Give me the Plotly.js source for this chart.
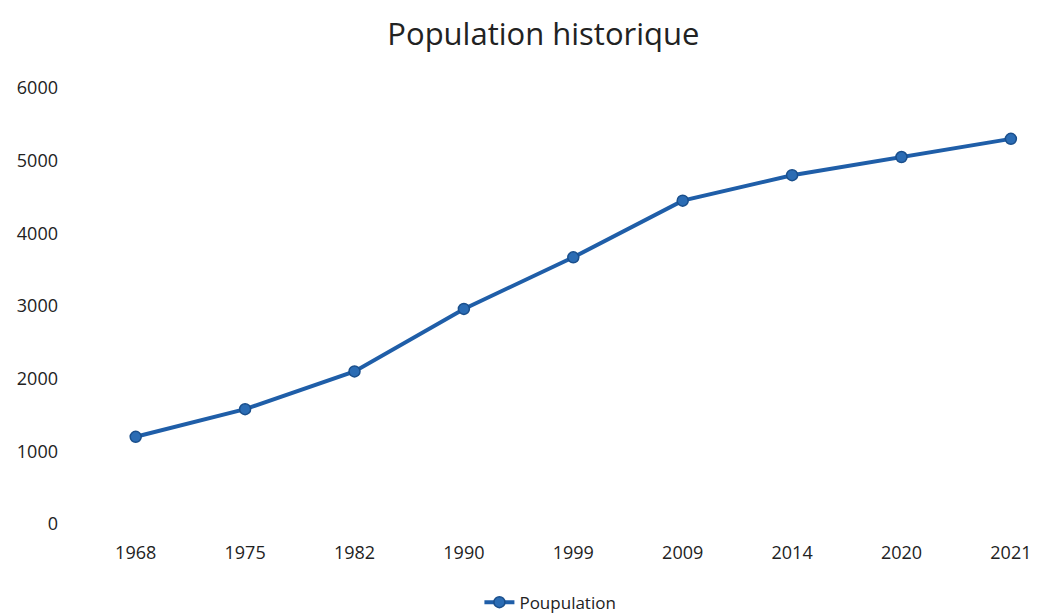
<!DOCTYPE html>
<html>
<head>
<meta charset="utf-8">
<script src="https://cdn.plot.ly/plotly-3.0.1.min.js"></script>
<style>html,body{margin:0;padding:0;background:#fff;}#chart{width:1039px;height:613px;}</style>
</head>
<body>
<div id="chart"></div>
<script>
const years = ['1968','1975','1982','1990','1999','2009','2014','2020','2021'];
const population = [1200, 1580, 2100, 2960, 3670, 4450, 4800, 5050, 5300];
const seriesName = 'Poupulation';
const yTicks = [0, 1000, 2000, 3000, 4000, 5000, 6000];

const trace = {
  x: years,
  y: population,
  name: seriesName,
  type: 'scatter',
  mode: 'lines+markers',
  line: {color: '#1f5ea8', width: 4},
  marker: {color: '#2b6cb4', size: 11, line: {color: '#1a4f8c', width: 1.5}}
};

const layout = {
  width: 1039, height: 613,
  paper_bgcolor: '#fff', plot_bgcolor: '#fff',
  font: {family: 'Open Sans, Noto Sans, sans-serif', color: '#222'},
  margin: {l: 81, r: 0, t: 88, b: 89, autoexpand: false},
  title: {text: 'Population historique', x: 0.523, xanchor: 'center', y: 0.945, yanchor: 'middle',
          font: {size: 31, color: '#222', family: 'Open Sans, Noto Sans, sans-serif'}},
  showlegend: true,
  legend: {orientation: 'h', x: 0.49, xanchor: 'center', yref: 'container', y: 0.017, yanchor: 'middle',
           font: {size: 17, color: '#222'}},
  xaxis: {type: 'category', range: [-0.5, 8.257], showgrid: false, zeroline: false, showline: false, automargin: false,
          ticks: '', ticklabelstandoff: 16, tickfont: {size: 18, color: '#222'}},
  yaxis: {range: [0, 6000], tickvals: yTicks, showgrid: false, zeroline: false, showline: false, automargin: false,
          ticks: '', ticklabelstandoff: 22, tickfont: {size: 18, color: '#222'}}
};

Plotly.newPlot('chart', [trace], layout, {displayModeBar: false, staticPlot: true});
</script>
</body>
</html>
